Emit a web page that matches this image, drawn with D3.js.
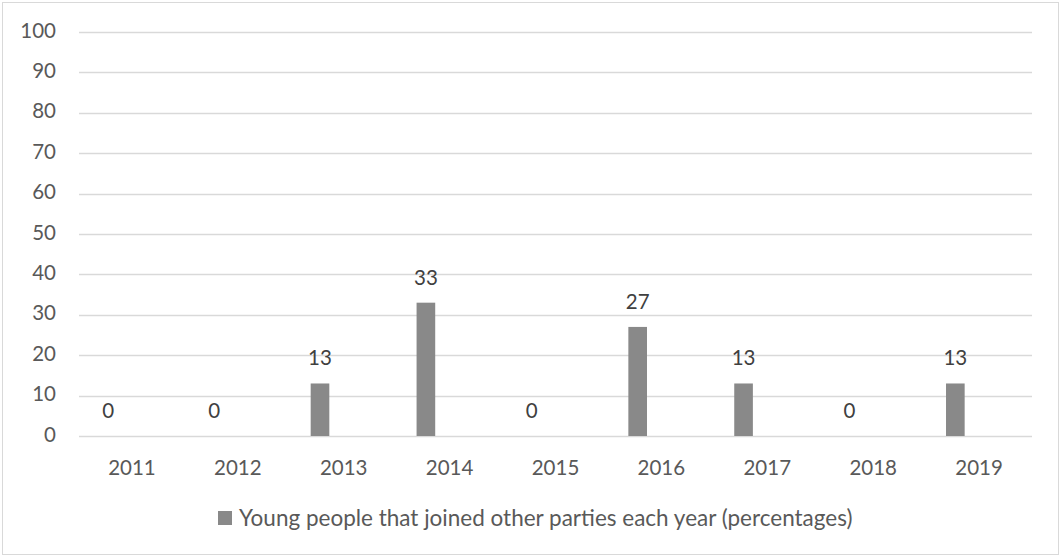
<!DOCTYPE html>
<html><head><meta charset="utf-8">
<script src="https://cdn.jsdelivr.net/npm/d3@7"></script>
<style>body{margin:0;background:#fff}svg{display:block}text{font-family:Lato,"Open Sans",sans-serif;fill:#595959}</style>
</head><body><svg id="c" width="1061" height="557"></svg>
<script>
const categories = ["2011","2012","2013","2014","2015","2016","2017","2018","2019"];
const values = [0,0,13,33,0,27,13,0,13];
const yTicks = [0,10,20,30,40,50,60,70,80,90,100];
const seriesName = "Young people that joined other parties each year (percentages)";

const svg = d3.select("#c");
const W = 1061, H = 557;
svg.append("rect").attr("x",2.5).attr("y",2.5).attr("width",W-5).attr("height",H-5)
  .attr("fill","#fff").attr("stroke","#d9d9d9").attr("stroke-width",1);

const x = d3.scaleBand().domain(categories).range([79,1032]).padding(0);
const y = d3.scaleLinear().domain([0,100]).range([436,32]);
const fs = 20.5;

// gridlines
svg.append("g").selectAll("line").data(yTicks).join("line")
  .attr("x1",79).attr("x2",1032).attr("y1",d=>Math.round(y(d))+0.5).attr("y2",d=>Math.round(y(d))+0.5)
  .attr("stroke","#d9d9d9").attr("stroke-width",1.3);

// y tick labels
svg.append("g").selectAll("text").data(yTicks).join("text")
  .attr("x",56).attr("y",d=>y(d)+5.5).attr("text-anchor","end").attr("font-size",fs).text(d=>d);

// x labels
svg.append("g").selectAll("text").data(categories).join("text")
  .attr("x",d=>x(d)+x.bandwidth()/2).attr("y",475).attr("text-anchor","middle").attr("font-size",fs).text(d=>d);

const bw = x.bandwidth();
const bx = d => x(d) + bw*0.188;
const bwid = bw*0.176;
// bars
svg.append("g").selectAll("rect").data(categories).join("rect")
  .attr("x",(d)=>bx(d)).attr("width",bwid)
  .attr("y",(d,i)=>y(values[i])).attr("height",(d,i)=>y(0)-y(values[i]))
  .attr("fill","#898989");

// data labels
svg.append("g").selectAll("text").data(categories).join("text")
  .attr("x",d=>bx(d)+bwid/2).attr("y",(d,i)=>y(values[i])-18).attr("text-anchor","middle")
  .attr("font-size",fs).style("fill","#404040").text((d,i)=>values[i]);

// legend
const lg = svg.append("g");
lg.append("rect").attr("x",218).attr("y",511).attr("width",14).attr("height",14).attr("fill","#898989");
lg.append("text").attr("x",239).attr("y",526).attr("font-size",22.5).text(seriesName);
</script></body></html>
